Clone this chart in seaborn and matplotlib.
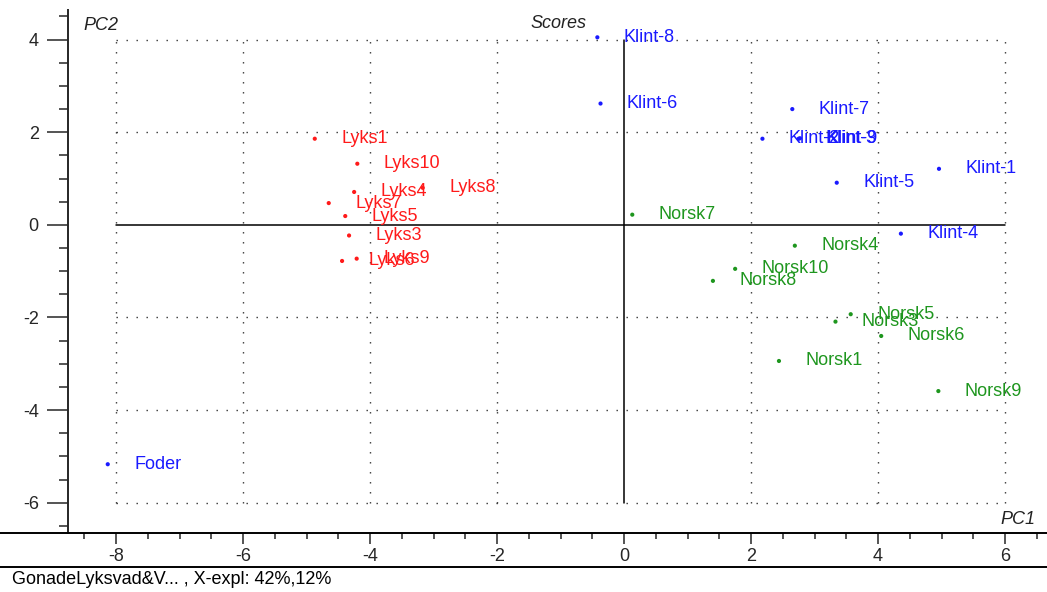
import matplotlib
matplotlib.use("Agg")

import matplotlib.pyplot as plt
import pandas as pd
import seaborn as sns
from matplotlib.lines import Line2D
from matplotlib.ticker import MultipleLocator

# =========================
# DATA
# =========================
klint_names = ["Klint-1", "Klint-2", "Klint-3", "Klint-4", "Klint-5",
               "Klint-6", "Klint-7", "Klint-8", "Klint-9", "Foder"]
klint_pc1 = [4.96, 2.18, 2.75, 4.36, 3.35, -0.37, 2.65, -0.42, 2.77, -8.13]
klint_pc2 = [1.21, 1.86, 1.86, -0.19, 0.91, 2.62, 2.50, 4.05, 1.87, -5.17]

lyks_names = ["Lyks1", "Lyks3", "Lyks4", "Lyks5", "Lyks6",
              "Lyks7", "Lyks8", "Lyks9", "Lyks10"]
lyks_pc1 = [-4.87, -4.33, -4.25, -4.39, -4.44, -4.65, -3.17, -4.21, -4.20]
lyks_pc2 = [1.86, -0.23, 0.71, 0.19, -0.78, 0.47, 0.80, -0.73, 1.32]

norsk_names = ["Norsk1", "Norsk3", "Norsk4", "Norsk5", "Norsk6",
               "Norsk7", "Norsk8", "Norsk9", "Norsk10"]
norsk_pc1 = [2.44, 3.33, 2.69, 3.57, 4.05, 0.13, 1.40, 4.95, 1.75]
norsk_pc2 = [-2.94, -2.09, -0.45, -1.93, -2.40, 0.22, -1.21, -3.59, -0.95]

group_colors = {"Klint": "#1a1aff", "Lyks": "#ff1a1a", "Norsk": "#1e961e"}

df = pd.concat([
    pd.DataFrame({"name": klint_names, "PC1": klint_pc1, "PC2": klint_pc2, "group": "Klint"}),
    pd.DataFrame({"name": lyks_names, "PC1": lyks_pc1, "PC2": lyks_pc2, "group": "Lyks"}),
    pd.DataFrame({"name": norsk_names, "PC1": norsk_pc1, "PC2": norsk_pc2, "group": "Norsk"}),
], ignore_index=True)

# =========================
# STYLE
# =========================
sns.set_style("white")
plt.rcParams["font.family"] = ["Liberation Sans", "DejaVu Sans"]
plt.rcParams["axes.unicode_minus"] = False

W, H = 1047, 592
fig = plt.figure(figsize=(W / 100, H / 100), dpi=100)
ax = fig.add_axes([68 / W, (H - 533) / H, (W - 68) / W, (533 - 10) / H])

# =========================
# SCATTER + LABELS
# =========================
sns.scatterplot(data=df, x="PC1", y="PC2", hue="group", palette=group_colors,
                s=9, marker="o", linewidth=0, legend=False, ax=ax, zorder=3)

for _, row in df.iterrows():
    ax.annotate(row["name"], (row["PC1"], row["PC2"]), xytext=(19, 0),
                textcoords="offset points", va="center", ha="left",
                fontsize=13, color=group_colors[row["group"]], zorder=4)

# axis limits mapped to the pixel frame
ax.set_xlim(-8.756, 6.661)
ax.set_ylim(-6.655, 4.64)

# dotted grid at the major ticks, solid lines through origin
dots = (0, (1, 6.2))
for gy in [4, 2, -2, -4, -6]:
    ax.plot([-8, 6], [gy, gy], color="#333333", lw=1, ls=dots, zorder=1)
for gx in [-8, -6, -4, -2, 2, 4, 6]:
    ax.plot([gx, gx], [-6, 4], color="#333333", lw=1, ls=dots, zorder=1)
ax.plot([-8, 6], [0, 0], color="black", lw=1.1, zorder=2)
ax.plot([0, 0], [-6, 4], color="black", lw=1.1, zorder=2)

# spines and ticks
for side in ["top", "right"]:
    ax.spines[side].set_visible(False)
ax.spines["left"].set_linewidth(1.4)
ax.spines["bottom"].set_visible(False)

ax.xaxis.set_major_locator(MultipleLocator(2))
ax.xaxis.set_minor_locator(MultipleLocator(0.5))
ax.yaxis.set_major_locator(MultipleLocator(2))
ax.yaxis.set_minor_locator(MultipleLocator(0.5))
ax.tick_params(axis="y", which="major", direction="out", length=15, width=1.1,
               pad=6, labelsize=13, left=True)
ax.tick_params(axis="y", which="minor", direction="out", length=6.5, width=1.1, left=True)
ax.tick_params(axis="x", which="major", direction="out", length=8, width=1.1,
               pad=3, labelsize=13, bottom=True)
ax.tick_params(axis="x", which="minor", direction="out", length=4.5, width=1.1, bottom=True)
ax.set_xlabel("")
ax.set_ylabel("")

# full-width baseline and footer separator
y_base = (H - 533) / H
fig.add_artist(Line2D([0, 1], [y_base, y_base], color="black", lw=1.4))
y_sep = (H - 567) / H
fig.add_artist(Line2D([0, 1], [y_sep, y_sep], color="black", lw=1.4))

# =========================
# TEXTS
# =========================
fig.text(83 / W, 1 - 25 / H, "PC2", fontsize=13, style="italic", color="#222222", va="center")
fig.text(1000 / W, 1 - 519 / H, "PC1", fontsize=13, style="italic", color="#222222", va="center")
fig.text(530 / W, 1 - 24 / H, "Scores", fontsize=13, style="italic", color="#222222", va="center")
fig.text(12 / W, 1 - 580 / H, "GonadeLyksvad&V... , X-expl: 42%,12%", fontsize=13,
         color="black", va="center")

fig.savefig("out.png", dpi=100)
plt.close()
